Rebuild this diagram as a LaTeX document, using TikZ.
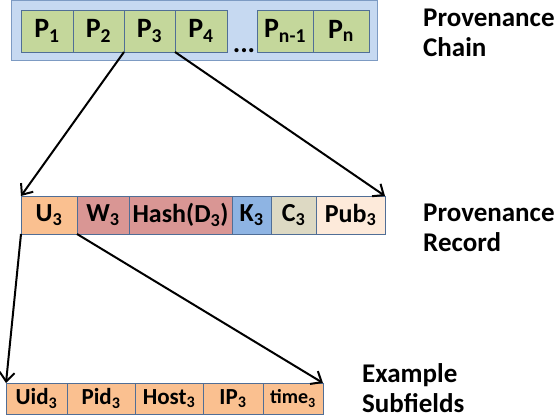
\documentclass[tikz,border=0pt]{standalone}
\usepackage{fontspec}
\setmainfont{Carlito}
\usetikzlibrary{positioning, arrows.meta}
\definecolor{chainbg}{RGB}{198,217,241}
\definecolor{chainline}{RGB}{125,155,195}
\definecolor{cellline}{RGB}{80,110,150}
\definecolor{pgreen}{RGB}{196,215,155}
\definecolor{uorange}{RGB}{250,192,144}
\definecolor{wred}{RGB}{217,150,148}
\definecolor{kblue}{RGB}{142,180,227}
\definecolor{cgray}{RGB}{221,217,195}
\definecolor{pubpeach}{RGB}{253,234,218}
\tikzstyle{cell} = [rectangle, draw=cellline, line width=0.9pt,
inner sep=0pt, outer sep=0pt, anchor=west,
font=\bfseries]
\tikzstyle{pcell} = [cell, fill=pgreen, minimum height=42pt,
font=\bfseries\fontsize{28}{30}\selectfont]
\tikzstyle{rcell} = [cell, minimum height=38pt,
font=\bfseries\fontsize{26}{30}\selectfont]
\tikzstyle{scell} = [cell, fill=uorange, minimum height=31pt,
font=\bfseries\fontsize{23}{26}\selectfont]
\tikzstyle{label} = [inner sep=0pt, anchor=north west, align=left,
font=\bfseries\fontsize{27}{30}\selectfont]
\tikzstyle{arrow} = [line width=2pt, -{Straight Barb[length=9pt,width=15pt]}]

\begin{document}
\begin{tikzpicture}[x=1pt, y=-1pt]
        \useasboundingbox (0,0) rectangle (556,419);
        % provenance chain
        \draw [fill=chainbg, draw=chainline, line width=1pt] (11,0.5) rectangle (377,61);
        \node (p1) [pcell, minimum width=52pt] at (21,31) {P\textsubscript{1}};
        \node (p2) [pcell, minimum width=51pt, right=0pt of p1] {P\textsubscript{2}};
        \node (p3) [pcell, minimum width=51pt, right=0pt of p2] {P\textsubscript{3}};
        \node (p4) [pcell, minimum width=52pt, right=0pt of p3] {P\textsubscript{4}};
        \node (dots) [anchor=base, inner sep=0pt, font=\bfseries\fontsize{28}{30}\selectfont] at (244,53) {...};
        \node (pn1) [pcell, minimum width=56pt] at (257,31) {P\textsubscript{n-1}};
        \node (pn) [pcell, minimum width=56pt, right=0pt of pn1] {P\textsubscript{n}};
        % provenance record
        \node (u3) [rcell, fill=uorange, minimum width=56pt] at (21,215) {U\textsubscript{3}};
        \node (w3) [rcell, fill=wred, minimum width=52pt, right=0pt of u3] {W\textsubscript{3}};
        \node (hash) [rcell, fill=wred, minimum width=103pt, right=0pt of w3] {Hash(D\textsubscript{3})};
        \node (k3) [rcell, fill=kblue, minimum width=39pt, right=0pt of hash] {K\textsubscript{3}};
        \node (c3) [rcell, fill=cgray, minimum width=45pt, right=0pt of k3] {C\textsubscript{3}};
        \node (pub3) [rcell, fill=pubpeach, minimum width=69pt, right=0pt of c3] {Pub\textsubscript{3}};
        % example subfields
        \node (uid) [scell, minimum width=61pt] at (6,398.5) {Uid\textsubscript{3}};
        \node (pid) [scell, minimum width=68pt, right=0pt of uid] {Pid\textsubscript{3}};
        \node (host) [scell, minimum width=68pt, right=0pt of pid] {Host\textsubscript{3}};
        \node (ip) [scell, minimum width=60pt, right=0pt of host] {IP\textsubscript{3}};
        \node (time) [scell, minimum width=60pt, right=0pt of ip, font=\bfseries\fontsize{20}{24}\selectfont] {time\textsubscript{3}};
        % labels
        \node (lchain) [label] at (423,9) {Provenance\\Chain};
        \node (lrecord) [label] at (423,204) {Provenance\\Record};
        \node (lsub) [label] at (362,363) {Example\\Subfields};
        % arrows
        \draw [arrow] (p3.south west) -- (u3.north west);
        \draw [arrow] (p3.south east) -- (pub3.north east);
        \draw [arrow] (u3.south west) -- (uid.north west);
        \draw [arrow] (u3.south east) -- (time.north east);
\end{tikzpicture}
\end{document}
